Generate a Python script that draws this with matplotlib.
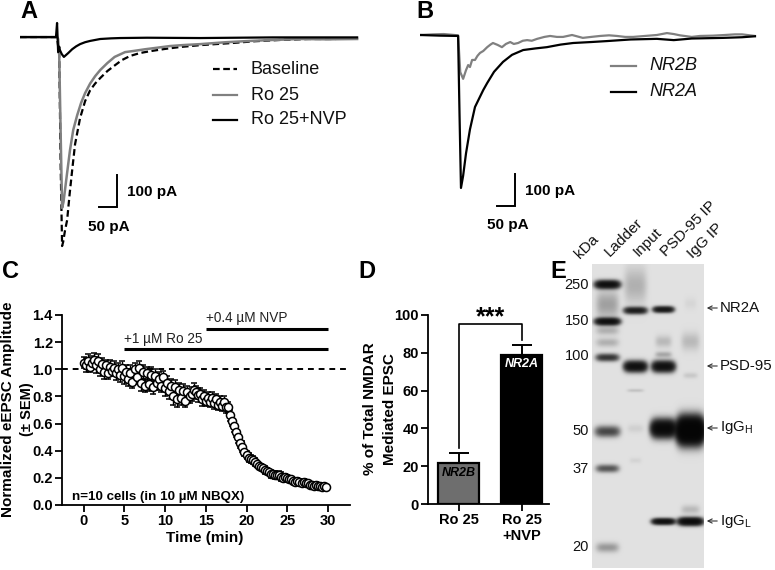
import numpy as np
import matplotlib
matplotlib.use('Agg')
import matplotlib.pyplot as plt

plt.rcParams['font.family'] = ['Liberation Sans', 'DejaVu Sans']
plt.rcParams['mathtext.fontset'] = 'custom'
plt.rcParams['mathtext.rm'] = 'Liberation Sans'

W, H = 775, 570

## Panel A traces (ms, pA)
a_base_t = [-103, 0, 6, 10, 14, 17, 22, 28, 35, 42, 50, 64, 78, 92, 106, 120, 140, 161, 180, 203, 230, 259, 300, 342,
            400, 481, 550, 620, 700, 770, 834]
a_base_i = [0, 0, -56, -400, -653, -640, -605, -572, -490, -416, -335, -253, -200, -166, -145, -128, -106, -88, -72, -59,
            -50, -44, -37, -31, -25, -19, -13, -9, -6, -6, -3]
a_ro_t = [-103, 0, 3, 6, 10, 14, 18, 22, 29, 36, 45, 56, 67, 78, 92, 106, 120, 140, 160, 189, 215, 245, 280, 314, 350,
          398, 470, 537, 600, 676, 750, 834]
a_ro_i = [0, 0, -6, -56, -300, -534, -515, -478, -415, -353, -290, -244, -205, -175, -145, -122, -103, -81, -62, -47, -43,
          -38, -33, -28, -25, -22, -16, -12, -9, -6, -7, -6]
a_nvp_t = [-103, -3, 0, 3, 6, 8, 13, 19, 25, 31, 42, 53, 64, 78, 92, 106, 120, 150, 175, 250, 398, 600, 834]
a_nvp_i = [0, 0, 44, -47, -30, -41, -53, -62, -56, -50, -38, -29, -22, -16, -12, -9, -6, -4, -3, -2, -3, -1, -1]

## Panel B traces (ms, pA)
b_2a_t = [-106, -50, 0, 4, 8, 14, 22, 33, 47, 60, 70, 81, 100, 125, 150, 181, 215, 247, 285, 320, 370, 414, 480, 553,
          600, 650, 737, 790, 826]
b_2a_i = [0, -2, -3, -250, -478, -440, -370, -295, -225, -195, -172, -150, -115, -84, -62, -47, -42, -38, -30, -25, -22, -19,
          -14, -12, -16, -11, -9, -7, -4]
b_2b_t = [-106, -70, -40, 0, 6, 14, 22, 28, 33, 39, 47, 54, 61, 70, 81, 90, 97, 110, 122, 133, 145, 155, 167, 180, 192,
          205, 220, 240, 256, 275, 292, 317, 347, 370, 395, 420, 442, 465, 487, 520, 553, 581, 600, 617, 650, 673, 710,
          742, 770, 790, 826]
b_2b_i = [0, 2, 3, -1, -116, -137, -110, -94, -100, -78, -78, -65, -56, -50, -38, -30, -25, -31, -38, -28, -22, -28, -25, -18,
          -16, -18, -12, -6, -3, -6, -6, 0, -9, -6, -3, -1, -3, -6, -6, -3, 0, 6, 3, -1, -6, -3, -2, 0, 2, 2, -3]

## Panel C time course
c_time = np.arange(120) * 0.25
c_amp = [1.05, 1.03, 1.06, 1.02, 1.05, 1.07, 1.03, 1.06, 1.00, 1.04, 0.98, 1.03, 0.97, 1.02, 0.99, 1.01, 0.97, 1.00, 0.96, 1.01,
         0.95, 0.98, 0.93, 0.97, 0.91, 1.00, 0.94, 1.01, 0.90, 0.98, 0.88, 0.97, 0.89, 0.96, 0.87, 0.95, 0.90, 0.93, 0.88, 0.94,
         0.86, 0.90, 0.84, 0.88, 0.80, 0.87, 0.78, 0.85, 0.79, 0.84, 0.77, 0.83, 0.80, 0.82, 0.85, 0.83, 0.81, 0.82, 0.78, 0.80,
         0.77, 0.79, 0.76, 0.79, 0.75, 0.78, 0.74, 0.76, 0.73, 0.76, 0.72, 0.72, 0.66, 0.62, 0.58, 0.54, 0.50, 0.46, 0.43, 0.39,
         0.37, 0.35, 0.34, 0.33, 0.32, 0.30, 0.29, 0.28, 0.27, 0.26, 0.25, 0.24, 0.23, 0.23, 0.22, 0.22, 0.22, 0.21, 0.20, 0.21,
         0.20, 0.19, 0.19, 0.18, 0.17, 0.18, 0.17, 0.16, 0.17, 0.16, 0.16, 0.15, 0.15, 0.14, 0.15, 0.14, 0.14, 0.13, 0.14, 0.13]
c_sem = [0.04, 0.05, 0.05, 0.04, 0.05, 0.05, 0.06, 0.05, 0.05, 0.04, 0.05, 0.04, 0.04, 0.05, 0.04, 0.05, 0.05, 0.05, 0.05, 0.05,
         0.06, 0.05, 0.05, 0.06, 0.05, 0.05, 0.05, 0.05, 0.06, 0.05, 0.05, 0.05, 0.05, 0.06, 0.05, 0.05, 0.05, 0.05, 0.05, 0.05,
         0.06, 0.05, 0.06, 0.05, 0.06, 0.05, 0.06, 0.05, 0.05, 0.05, 0.05, 0.05, 0.05, 0.05, 0.05, 0.05, 0.05, 0.04, 0.05, 0.05,
         0.04, 0.04, 0.04, 0.04, 0.04, 0.04, 0.04, 0.04, 0.04, 0.04, 0.04, 0.04, 0.04, 0.04, 0.04, 0.04, 0.04, 0.04, 0.04, 0.03,
         0.03, 0.03, 0.03, 0.03, 0.03, 0.02, 0.02, 0.02, 0.02, 0.03, 0.02, 0.02, 0.03, 0.02, 0.03, 0.02, 0.03, 0.03, 0.02, 0.02,
         0.02, 0.02, 0.02, 0.02, 0.02, 0.02, 0.02, 0.02, 0.02, 0.02, 0.02, 0.02, 0.02, 0.01, 0.02, 0.01, 0.02, 0.01, 0.01, 0.01]
ro_start, nvp_start, wash_end = 5, 15, 30
ro_level, nvp_level = 1.15, 1.30

## Panel D bars
d_labels = ['Ro 25', 'Ro 25\n+NVP']
d_values = [21.5, 79]
d_sem = [5.5, 5.3]
d_colors = ['#6e6e6e', '#000000']

## Panel E blot bands: lane centre px, band y px, half width, sigma y, darkness
band_x = [607, 607, 607, 607, 607, 607, 607, 607, 607,
          635, 635, 635, 635, 635, 635,
          663, 663, 663, 663, 663, 663,
          690, 690, 690, 690, 690, 690]
band_y = [284, 321, 357, 431, 468, 547, 304, 330, 342,
          310, 366, 390, 285, 428, 460,
          309, 366, 354, 341, 428, 521,
          430, 521, 509, 341, 375, 303]
band_w = [12, 12, 11, 12, 11, 11, 11, 11, 11,
          11, 11, 8, 11, 8, 6,
          10, 11, 8, 8, 12, 11,
          13, 12, 9, 9, 7, 6]
band_h = [2.6, 2.3, 2.4, 3.5, 2.5, 3.2, 9, 3, 3,
          2.2, 3.4, 1.2, 12, 3, 2,
          2.0, 3.5, 2, 4, 5.5, 2.0,
          8, 2.5, 3, 6, 2, 4]
band_k = [3.0, 3.0, 1.5, 1.2, 1.0, 0.4, 0.35, 0.25, 0.25,
          2.2, 3.0, 0.15, 0.25, 0.08, 0.06,
          2.5, 3.0, 0.3, 0.2, 4.0, 3.0,
          7.0, 3.5, 0.2, 0.2, 0.12, 0.05]
mw_labels = ['250', '150', '100', '50', '37', '20']
mw_y = [285, 321, 356, 431, 469, 547]
lane_labels = ['kDa', 'Ladder', 'Input', 'PSD-95 IP', 'IgG IP']
lane_x = [582, 612, 641, 668, 695]
lane_y = [261, 259, 259, 259, 261]
target_labels = ['NR2A', 'PSD-95', 'IgG$_{\\mathrm{H}}$', 'IgG$_{\\mathrm{L}}$']
target_y = [308, 366, 428, 521]


def px_axes(fig, left, top, right, bottom):
    return fig.add_axes([left / W, 1 - bottom / H, (right - left) / W, (bottom - top) / H])


fig = plt.figure(figsize=(7.75, 5.7), dpi=100)
lw = 1.6

### A
ax_a = px_axes(fig, 20, 15, 360, 255)
ax_a.plot(a_base_t, a_base_i, color='black', lw=lw, ls=(0, (3, 1.6)))
ax_a.plot(a_ro_t, a_ro_i, color='#808080', lw=lw + 0.2)
ax_a.plot(a_nvp_t, a_nvp_i, color='black', lw=lw)
ax_a.set_xlim(-103, 842)
ax_a.set_ylim(-681, 69)
ax_a.axis('off')

### B
ax_b = px_axes(fig, 420, 15, 760, 255)
ax_b.plot(b_2b_t, b_2b_i, color='#808080', lw=lw)
ax_b.plot(b_2a_t, b_2a_i, color='black', lw=lw)
ax_b.set_xlim(-106, 840)
ax_b.set_ylim(-687.5, 62.5)
ax_b.axis('off')

### C
ax_c = px_axes(fig, 62, 315, 350, 505)
ax_c.axhline(1.0, color='black', lw=1.4, ls=(0, (3, 2.5)), zorder=1)
ax_c.errorbar(c_time, c_amp, yerr=c_sem, fmt='o', ms=5.8, mfc='white', mec='black', mew=1.1,
              ecolor='black', elinewidth=1, capsize=2.5, capthick=1, zorder=2)
ax_c.plot([ro_start, wash_end], [ro_level, ro_level], color='black', lw=2.2, solid_capstyle='butt')
ax_c.plot([nvp_start, wash_end], [nvp_level, nvp_level], color='black', lw=2.2, solid_capstyle='butt')
ax_c.text(ro_start, ro_level + 0.025, '+1 \u00b5M Ro 25', fontsize=9.8, va='bottom', color='#222222')
ax_c.text(nvp_start, nvp_level + 0.025, '+0.4 \u00b5M NVP', fontsize=9.8, va='bottom', color='#222222')
ax_c.text(-1.45, 0.06, 'n=10 cells (in 10 \u00b5M NBQX)', fontsize=9.6, fontweight='bold', va='center')
ax_c.set_xlim(-2.65, 32.7)
ax_c.set_ylim(0, 1.4)
ax_c.set_xticks(range(0, 31, 5))
ax_c.set_yticks([0, 0.2, 0.4, 0.6, 0.8, 1.0, 1.2, 1.4])
ax_c.set_yticklabels(['0.0', '0.2', '0.4', '0.6', '0.8', '1.0', '1.2', '1.4'])

### D
ax_d = px_axes(fig, 428, 315, 549, 504)
d_x = [0, 1]
ax_d.bar(d_x, d_values, width=0.65, color=d_colors, edgecolor='black', linewidth=1.6, zorder=2)
ax_d.errorbar(d_x, d_values, yerr=[[0, 0], d_sem], fmt='none', ecolor='black', elinewidth=1.4,
              capsize=7.5, capthick=1.4, zorder=1)
ax_d.plot([0, 0, 1, 1], [29.6, 95.2, 95.2, 87], color='black', lw=1.2)
ax_d.text(0.5, 92.5, '***', ha='center', va='bottom', fontsize=18, fontweight='bold', clip_on=False)
ax_d.text(0, 16.4, 'NR2B', ha='center', va='center', fontsize=9, style='italic', fontweight='bold')
ax_d.text(1, 74, 'NR2A', ha='center', va='center', fontsize=9, style='italic', fontweight='bold', color='white')
ax_d.set_xlim(-0.49, 1.43)
ax_d.set_ylim(0, 100)
ax_d.set_xticks(d_x)
ax_d.set_xticklabels(d_labels)
ax_d.set_yticks(range(0, 101, 20))

for ax in [ax_c, ax_d]:
    ax.spines['top'].set_visible(False)
    ax.spines['right'].set_visible(False)
    ax.spines['left'].set_linewidth(1.3)
    ax.spines['bottom'].set_linewidth(1.3)
    ax.tick_params(width=1.3, length=5, labelsize=10.5, pad=1.5)
    for lab in ax.get_xticklabels() + ax.get_yticklabels():
        lab.set_fontweight('bold')

### overlay in pixel units: labels, scale bars, legends, blot
ov = fig.add_axes([0, 0, 1, 1], zorder=5)
ov.set_xlim(0, W)
ov.set_ylim(H, 0)
ov.axis('off')
ov.patch.set_alpha(0)

for s, x, y in [('A', 20, 12), ('B', 416, 12), ('C', 2, 271), ('D', 358, 271), ('E', 550, 271)]:
    ov.text(x, y, s, fontsize=17, fontweight='bold', va='center', ha='left')

for xv, ytop, ybot, xh in [(116.5, 175, 207, 99), (515, 174, 206, 497)]:
    ov.plot([xv, xv, xh], [ytop, ybot, ybot], color='black', lw=1.4, solid_joinstyle='miter')
for x, y, s in [(127, 192, '100 pA'), (88, 227, '50 pA'), (525, 191, '100 pA'), (487, 225, '50 pA')]:
    ov.text(x, y, s, fontsize=11, fontweight='bold', va='center')

ov.plot([213, 237], [69, 69], color='black', lw=lw, ls=(0, (3, 1.6)))
ov.plot([213, 237], [95, 95], color='#808080', lw=lw)
ov.plot([213, 237], [120, 120], color='black', lw=lw)
for y, s in [(69, 'Baseline'), (95, 'Ro 25'), (120, 'Ro 25+NVP')]:
    ov.text(251, y, s, fontsize=13, va='center', color='#111111')
ov.plot([611, 636], [66, 66], color='#808080', lw=lw)
ov.plot([611, 636], [92, 92], color='black', lw=lw)
ov.text(649, 66, 'NR2B', fontsize=13, style='italic', va='center', color='#111111')
ov.text(649, 92, 'NR2A', fontsize=13, style='italic', va='center', color='#111111')

ov.text(8, 409, 'Normalized eEPSC Amplitude', rotation=90, fontsize=11, fontweight='bold', ha='center', va='center')
ov.text(27, 409, '(\u00b1 SEM)', rotation=90, fontsize=10.5, fontweight='bold', ha='center', va='center')
ov.text(205, 538, 'Time (min)', fontsize=11, fontweight='bold', ha='center', va='center')
ov.text(370, 409, '% of Total NMDAR', rotation=90, fontsize=11, fontweight='bold', ha='center', va='center')
ov.text(390, 409, 'Mediated EPSC', rotation=90, fontsize=11, fontweight='bold', ha='center', va='center')

# blot image built up from the band table
yy, xx = np.mgrid[264:568, 592:704]
dark = np.zeros(xx.shape, dtype=float)
for bx, by, bw, bh, bk in zip(band_x, band_y, band_w, band_h, band_k):
    dark += bk * np.exp(-((xx - bx) / bw) ** 4 - ((yy - by) / bh) ** 2 / 2)
blot = 0.86 * np.exp(-dark) + 0.02
ov.imshow(blot, cmap='gray', vmin=0, vmax=1, extent=(592, 704, 568, 264), aspect='auto', interpolation='bilinear')
ov.set_xlim(0, W)
ov.set_ylim(H, 0)

for s, y in zip(mw_labels, mw_y):
    ov.text(589, y, s, fontsize=10.5, ha='right', va='center', color='#111111')
for s, x, y in zip(lane_labels, lane_x, lane_y):
    ov.text(x, y, s, fontsize=11, rotation=45, rotation_mode='anchor', ha='left', va='bottom', color='#111111')
for s, y in zip(target_labels, target_y):
    ov.annotate('', xy=(704, y), xytext=(720, y),
                arrowprops=dict(arrowstyle='->,head_width=0.15,head_length=0.3', lw=0.8, color='#333333'))
    ov.text(720, y, s, fontsize=10.8, va='center', color='#111111')

fig.savefig('out.png', dpi=100)
